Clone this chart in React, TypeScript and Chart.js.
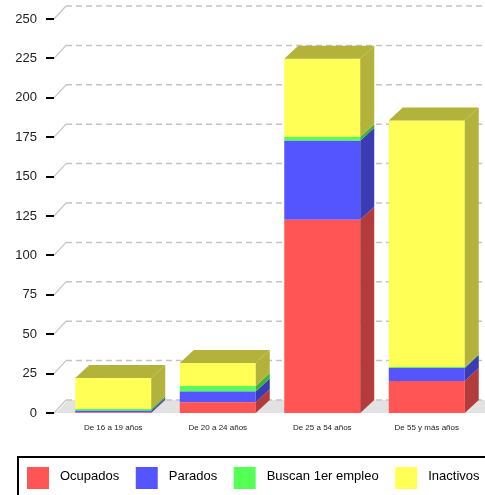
import React, { useEffect, useRef } from "react";
import { Chart, registerables } from "chart.js";

Chart.register(...registerables);

const categories = ["De 16 a 19 años", "De 20 a 24 años", "De 25 a 54 años", "De 55 y más años"];
const seriesNames = ["Ocupados", "Parados", "Buscan 1er empleo", "Inactivos"];
const ocupados = [0.3, 6.9, 122.6, 20.3];
const parados = [1.1, 6.8, 50.2, 8.3];
const buscan = [1.1, 3.4, 2.4, 0.6];
const inactivos = [19.7, 14.6, 49.6, 156.4];
const yTicks = [0, 25, 50, 75, 100, 125, 150, 175, 200, 225, 250];

const frontColors = ["#ff5555", "#5555ff", "#55ff55", "#ffff55"];
const sideColors = ["#b33b3b", "#3b3bb3", "#3bb33b", "#b3b33b"];

const FONT = '"Liberation Sans", Arial, sans-serif';
const DX = 14;
const DY = -13;

const threeD = {
  id: "threeD",
  beforeDatasetsDraw(chart: any) {
    const ctx = chart.ctx;
    const area = chart.chartArea;
    const ys = chart.scales.y;
    const xs = chart.scales.x;
    const W = chart.width;
    ctx.save();
    // floor
    const y0 = ys.getPixelForValue(0);
    ctx.fillStyle = "#e2e2e2";
    ctx.beginPath();
    ctx.moveTo(56, y0);
    ctx.lineTo(W, y0);
    ctx.lineTo(W, y0 + DY);
    ctx.lineTo(56 + 12, y0 + DY);
    ctx.closePath();
    ctx.fill();
    // grid lines
    yTicks.forEach((v) => {
      const y = ys.getPixelForValue(v);
      ctx.strokeStyle = "#c4c4c4";
      ctx.lineWidth = 1.2;
      ctx.setLineDash([]);
      ctx.beginPath();
      ctx.moveTo(54, y);
      ctx.lineTo(66, y + DY);
      ctx.stroke();
      ctx.setLineDash([6, 4]);
      ctx.lineWidth = 1.5;
      ctx.beginPath();
      ctx.moveTo(66, y + DY);
      ctx.lineTo(W, y + DY);
      ctx.stroke();
      // tick mark
      ctx.setLineDash([]);
      ctx.fillStyle = "#000";
      ctx.fillRect(46, Math.round(y) - 1, 8, 2);
      // label
      ctx.fillStyle = "#222";
      ctx.font = "13px " + FONT;
      ctx.textAlign = "right";
      ctx.textBaseline = "middle";
      ctx.fillText(String(v), 37, y);
    });
    // x labels
    ctx.font = "8px " + FONT;
    ctx.textAlign = "center";
    ctx.textBaseline = "middle";
    ctx.fillStyle = "#222";
    categories.forEach((c, i) => {
      ctx.fillText(c, xs.getPixelForValue(i), area.bottom + 15);
    });
    // legend
    ctx.strokeStyle = "#000";
    ctx.lineWidth = 2;
    ctx.strokeRect(18, 457, 600, 100);
    ctx.font = "13px " + FONT;
    ctx.textAlign = "left";
    ctx.textBaseline = "middle";
    let lx = 27;
    chart.data.datasets.forEach((ds: any) => {
      ctx.fillStyle = ds.backgroundColor;
      ctx.fillRect(lx, 467, 22, 22);
      ctx.fillStyle = "#000";
      ctx.fillText(ds.label, lx + 33, 476);
      lx += 33 + ctx.measureText(ds.label).width + 16.5;
    });
    ctx.restore();
  },
  afterDatasetsDraw(chart: any) {
    const ctx = chart.ctx;
    const n = chart.data.labels.length;
    ctx.save();
    for (let j = 0; j < n; j++) {
      let topIdx = -1;
      chart.data.datasets.forEach((ds: any, i: number) => {
        if (ds.data[j] > 0) topIdx = i;
      });
      chart.data.datasets.forEach((ds: any, i: number) => {
        const bar = chart.getDatasetMeta(i).data[j];
        if (!bar) return;
        const { x, y, base, width } = bar.getProps(["x", "y", "base", "width"], true);
        const l = x - width / 2;
        const r = x + width / 2;
        ctx.fillStyle = sideColors[i];
        ctx.beginPath();
        ctx.moveTo(r, base);
        ctx.lineTo(r, y);
        ctx.lineTo(r + DX, y + DY);
        ctx.lineTo(r + DX, base + DY);
        ctx.closePath();
        ctx.fill();
        if (i === topIdx) {
          ctx.beginPath();
          ctx.moveTo(l, y);
          ctx.lineTo(l + DX, y + DY);
          ctx.lineTo(r + DX, y + DY);
          ctx.lineTo(r, y);
          ctx.closePath();
          ctx.fill();
        }
      });
    }
    ctx.restore();
  },
};

export default function App() {
  const ref = useRef<HTMLCanvasElement | null>(null);
  useEffect(() => {
    if (!ref.current) return;
    const values = [ocupados, parados, buscan, inactivos];
    const chart = new Chart(ref.current, {
      type: "bar",
      data: {
        labels: categories,
        datasets: seriesNames.map((name, i) => ({
          label: name,
          data: values[i],
          backgroundColor: frontColors[i],
          borderWidth: 0,
          barPercentage: 0.727,
          categoryPercentage: 1,
        })),
      },
      options: {
        responsive: false,
        animation: false,
        events: [],
        layout: { padding: { left: 61, right: 6, top: 19, bottom: 82 } },
        plugins: { legend: { display: false }, tooltip: { enabled: false } },
        scales: {
          x: { stacked: true, display: false },
          y: { stacked: true, display: false, min: 0, max: 250 },
        },
      },
      plugins: [threeD],
    });
    return () => chart.destroy();
  }, []);
  return (
    <div style={{ position: "absolute", left: 0, top: 0, width: 485, height: 495 }}>
      <canvas ref={ref} width={485} height={495} />
    </div>
  );
}
